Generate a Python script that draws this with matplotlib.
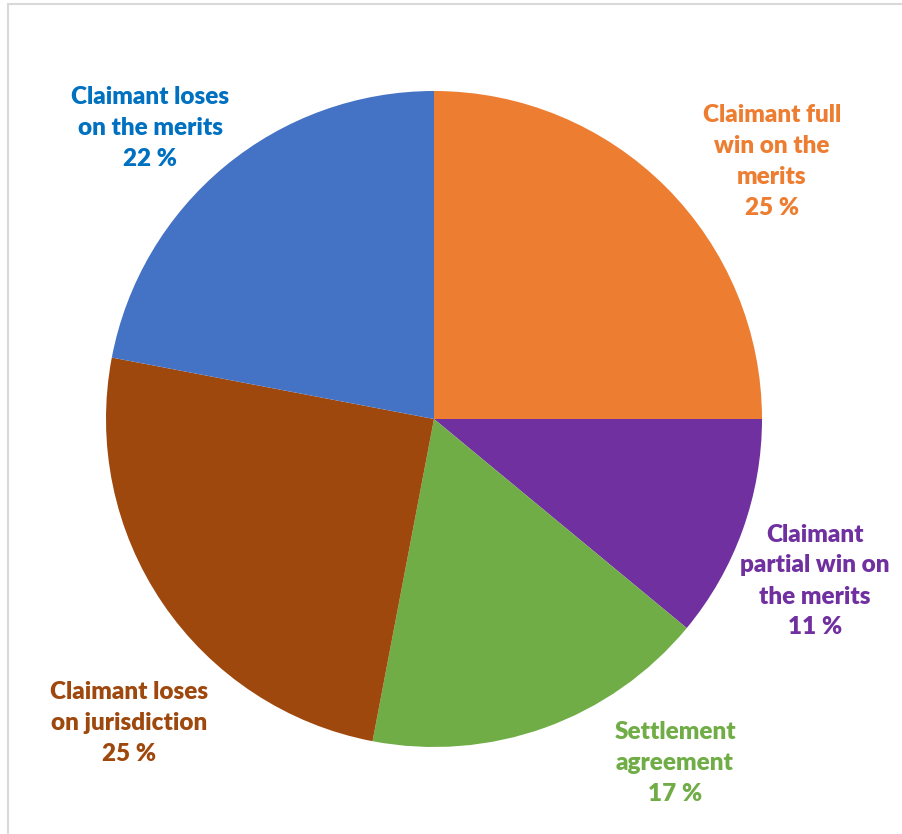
import matplotlib
matplotlib.use("Agg")
import matplotlib.pyplot as plt
from matplotlib.patches import Rectangle

# data
categories = ["Claimant full\nwin on the\nmerits", "Claimant\npartial win on\nthe merits",
              "Settlement\nagreement", "Claimant loses\non jurisdiction",
              "Claimant loses\non the merits"]
shares = [25, 11, 17, 25, 22]
slice_colors = ["#ED7D31", "#7030A0", "#70AD47", "#9E480E", "#4472C4"]
label_colors = ["#ED7D31", "#7030A0", "#70AD47", "#9E480E", "#0070C0"]

W, H = 902, 834
fig = plt.figure(figsize=(W/100, H/100), dpi=100)
ax = fig.add_axes([0, 0, 1, 1])

# light frame (only top and left visible)
fig.patches.append(Rectangle((8/W, -0.1), 1.2, (H-4)/H + 0.1, transform=fig.transFigure,
                             fill=False, edgecolor="#D9D9D9", linewidth=1.5))

ax.pie(shares, colors=slice_colors, startangle=90, counterclock=False,
       center=(434, H-419), radius=328, frame=True,
       wedgeprops=dict(linewidth=0))
ax.set_xlim(0, W)
ax.set_ylim(0, H)
ax.set_aspect("equal")
ax.axis("off")

label_pos = [(772, 161), (815, 581), (675, 763), (129, 723), (150, 128)]
for txt, val, col, (x, y) in zip(categories, shares, label_colors, label_pos):
    ax.text(x, H-y, f"{txt}\n{val} %", color=col, ha="center", va="center",
            fontsize=17.5, fontweight="heavy", family=["Lato", "DejaVu Sans"],
            linespacing=1.5)

fig.savefig("out.png", dpi=100)
